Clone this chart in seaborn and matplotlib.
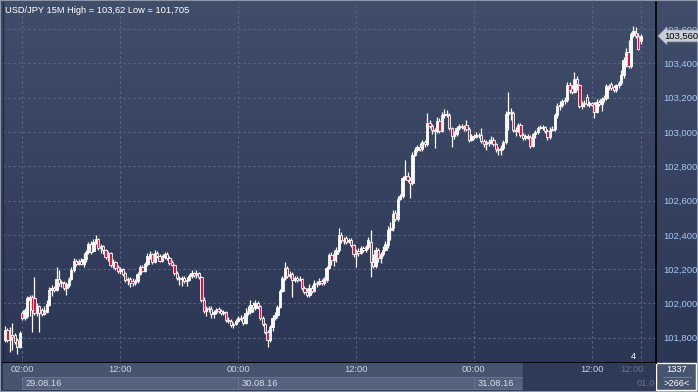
"""USD/JPY 15M candles, 29.08.16 - 31.08.16"""
import matplotlib
matplotlib.use("Agg")
import matplotlib.pyplot as plt
import numpy as np
import pandas as pd
import seaborn as sns

# ---- data (15 minute bars) ----
o = [101.787, 101.846, 101.787, 101.817, 101.817, 101.787, 101.747, 101.945, 101.916, 101.927,
     102.021, 102.038, 102.032, 101.945, 101.986, 101.962, 101.939, 101.951, 101.992, 102.079,
     102.091, 102.079, 102.143, 102.120, 102.120, 102.091, 102.108, 102.143, 102.196, 102.248,
     102.231, 102.248, 102.231, 102.260, 102.301, 102.347, 102.307, 102.359, 102.377, 102.324,
     102.336, 102.312, 102.272, 102.295, 102.225, 102.242, 102.213, 102.190, 102.202, 102.178,
     102.137, 102.143, 102.132, 102.120, 102.132, 102.172, 102.213, 102.190, 102.231, 102.277,
     102.289, 102.242, 102.295, 102.277, 102.248, 102.272, 102.289, 102.266, 102.242, 102.225,
     102.178, 102.149, 102.143, 102.149, 102.132, 102.137, 102.161, 102.178, 102.167, 102.178,
     102.155, 102.021, 101.957, 101.974, 101.968, 101.939, 101.951, 101.968, 101.957, 101.945,
     101.951, 101.904, 101.898, 101.875, 101.881, 101.898, 101.916, 101.916, 101.887, 101.945,
     101.951, 101.992, 101.974, 102.003, 101.986, 101.916, 101.881, 101.834, 101.787, 101.863,
     101.916, 101.933, 101.980, 102.073, 102.149, 102.207, 102.161, 102.172, 102.137, 102.149,
     102.137, 102.143, 102.091, 102.067, 102.050, 102.091, 102.073, 102.120, 102.114, 102.132,
     102.120, 102.137, 102.207, 102.283, 102.254, 102.289, 102.312, 102.400, 102.371, 102.382,
     102.359, 102.371, 102.342, 102.289, 102.307, 102.295, 102.324, 102.312, 102.330, 102.359,
     102.242, 102.219, 102.312, 102.266, 102.289, 102.312, 102.342, 102.429, 102.441, 102.528,
     102.493, 102.609, 102.627, 102.732, 102.744, 102.720, 102.703, 102.866, 102.895, 102.913,
     102.901, 102.942, 102.930, 103.053, 103.035, 103.012, 103.006, 103.064, 103.006, 103.099,
     103.105, 103.099, 103.024, 102.977, 102.989, 103.024, 103.035, 103.029, 103.041, 103.018,
     102.954, 102.977, 102.971, 102.983, 102.983, 102.948, 102.930, 102.942, 102.936, 102.954,
     102.930, 102.901, 102.895, 102.907, 102.942, 103.105, 103.117, 103.111, 103.012, 103.006,
     103.041, 102.983, 102.965, 102.977, 102.971, 102.919, 102.989, 103.000, 103.024, 103.029,
     103.029, 103.006, 102.971, 103.012, 103.018, 103.099, 103.152, 103.157, 103.181, 103.187,
     103.274, 103.257, 103.233, 103.309, 103.274, 103.152, 103.169, 103.204, 103.157, 103.169,
     103.163, 103.117, 103.175, 103.163, 103.193, 103.198, 103.268, 103.280, 103.263, 103.245,
     103.274, 103.286, 103.333, 103.420, 103.467, 103.385, 103.566, 103.577, 103.560, 103.531]
h = [101.869, 101.857, 101.863, 101.887, 101.828, 101.799, 101.840, 101.957, 101.974, 102.044,
     102.050, 102.050, 102.155, 102.003, 101.992, 101.974, 101.986, 102.021, 102.097, 102.108,
     102.103, 102.213, 102.196, 102.137, 102.132, 102.126, 102.155, 102.213, 102.266, 102.260,
     102.260, 102.266, 102.295, 102.312, 102.359, 102.365, 102.377, 102.400, 102.382, 102.347,
     102.342, 102.318, 102.307, 102.301, 102.260, 102.248, 102.225, 102.213, 102.207, 102.184,
     102.155, 102.155, 102.149, 102.143, 102.184, 102.225, 102.225, 102.242, 102.295, 102.307,
     102.295, 102.312, 102.307, 102.289, 102.283, 102.301, 102.301, 102.277, 102.254, 102.231,
     102.190, 102.161, 102.161, 102.161, 102.155, 102.172, 102.196, 102.184, 102.196, 102.184,
     102.161, 102.038, 101.986, 101.986, 101.986, 101.962, 101.974, 101.980, 101.968, 101.962,
     101.957, 101.922, 101.910, 101.892, 101.910, 101.927, 101.933, 101.927, 101.974, 101.986,
     102.021, 102.009, 102.021, 102.015, 101.992, 101.927, 101.887, 101.846, 101.875, 101.933,
     101.951, 101.992, 102.085, 102.161, 102.242, 102.219, 102.190, 102.184, 102.161, 102.161,
     102.161, 102.149, 102.103, 102.091, 102.114, 102.108, 102.137, 102.132, 102.149, 102.143,
     102.155, 102.219, 102.295, 102.301, 102.312, 102.330, 102.441, 102.417, 102.388, 102.394,
     102.382, 102.382, 102.347, 102.318, 102.324, 102.336, 102.336, 102.342, 102.388, 102.429,
     102.289, 102.330, 102.324, 102.301, 102.336, 102.365, 102.452, 102.476, 102.546, 102.546,
     102.627, 102.639, 102.744, 102.837, 102.767, 102.738, 102.884, 102.913, 102.925, 102.936,
     102.954, 102.954, 103.111, 103.070, 103.047, 103.024, 103.088, 103.082, 103.117, 103.134,
     103.128, 103.111, 103.029, 103.006, 103.035, 103.047, 103.047, 103.041, 103.070, 103.029,
     102.989, 102.989, 103.000, 102.994, 103.024, 102.960, 102.954, 102.960, 102.977, 102.971,
     102.936, 102.913, 102.925, 102.954, 103.123, 103.233, 103.140, 103.123, 103.029, 103.053,
     103.053, 102.994, 102.989, 102.989, 102.983, 102.994, 103.012, 103.035, 103.041, 103.041,
     103.035, 103.018, 103.029, 103.035, 103.111, 103.169, 103.181, 103.193, 103.204, 103.292,
     103.292, 103.274, 103.350, 103.327, 103.280, 103.181, 103.187, 103.222, 103.181, 103.175,
     103.175, 103.193, 103.187, 103.204, 103.216, 103.280, 103.280, 103.292, 103.274, 103.280,
     103.298, 103.362, 103.438, 103.490, 103.537, 103.583, 103.620, 103.612, 103.577, 103.572]
l = [101.776, 101.776, 101.717, 101.729, 101.764, 101.705, 101.741, 101.904, 101.904, 101.916,
     101.927, 101.834, 101.933, 101.927, 101.834, 101.927, 101.933, 101.945, 101.986, 102.044,
     102.067, 102.073, 102.103, 102.097, 102.079, 102.050, 102.097, 102.137, 102.184, 102.219,
     102.225, 102.225, 102.213, 102.242, 102.289, 102.289, 102.301, 102.347, 102.312, 102.295,
     102.289, 102.260, 102.248, 102.213, 102.207, 102.196, 102.178, 102.172, 102.161, 102.126,
     102.108, 102.097, 102.103, 102.108, 102.120, 102.167, 102.184, 102.184, 102.219, 102.260,
     102.231, 102.237, 102.266, 102.242, 102.242, 102.260, 102.254, 102.225, 102.219, 102.167,
     102.137, 102.108, 102.103, 102.120, 102.103, 102.132, 102.149, 102.155, 102.149, 102.143,
     102.009, 101.945, 101.927, 101.951, 101.916, 101.916, 101.939, 101.945, 101.933, 101.933,
     101.892, 101.887, 101.863, 101.857, 101.875, 101.892, 101.898, 101.875, 101.881, 101.933,
     101.939, 101.951, 101.962, 101.968, 101.904, 101.869, 101.822, 101.747, 101.776, 101.840,
     101.904, 101.916, 101.974, 102.067, 102.137, 102.149, 102.149, 102.038, 102.126, 102.126,
     102.132, 102.079, 102.056, 102.038, 102.038, 102.062, 102.067, 102.097, 102.108, 102.108,
     102.108, 102.126, 102.202, 102.225, 102.219, 102.242, 102.301, 102.353, 102.347, 102.347,
     102.353, 102.330, 102.272, 102.213, 102.277, 102.289, 102.301, 102.301, 102.318, 102.155,
     102.207, 102.207, 102.242, 102.237, 102.277, 102.307, 102.324, 102.371, 102.423, 102.481,
     102.481, 102.604, 102.615, 102.720, 102.709, 102.615, 102.691, 102.860, 102.884, 102.890,
     102.890, 102.913, 102.919, 103.024, 102.989, 102.907, 102.994, 102.994, 103.000, 103.082,
     103.088, 103.012, 102.913, 102.960, 102.977, 103.012, 103.018, 103.006, 103.006, 102.942,
     102.948, 102.960, 102.965, 102.965, 102.936, 102.913, 102.895, 102.919, 102.930, 102.919,
     102.884, 102.866, 102.866, 102.895, 102.930, 103.012, 103.070, 103.000, 102.977, 103.000,
     102.971, 102.954, 102.954, 102.960, 102.907, 102.913, 102.965, 102.989, 103.018, 103.012,
     102.994, 102.954, 102.960, 103.006, 103.006, 103.082, 103.128, 103.146, 103.163, 103.175,
     103.228, 103.222, 103.228, 103.245, 103.140, 103.134, 103.146, 103.152, 103.146, 103.152,
     103.082, 103.111, 103.152, 103.123, 103.175, 103.187, 103.245, 103.245, 103.233, 103.233,
     103.257, 103.274, 103.315, 103.379, 103.373, 103.373, 103.554, 103.548, 103.478, 103.513]
c = [101.846, 101.787, 101.817, 101.805, 101.776, 101.747, 101.828, 101.916, 101.962, 102.032,
     102.038, 101.962, 101.945, 101.986, 101.945, 101.939, 101.962, 101.997, 102.079, 102.091,
     102.079, 102.143, 102.120, 102.126, 102.091, 102.114, 102.143, 102.196, 102.248, 102.231,
     102.248, 102.231, 102.260, 102.301, 102.347, 102.301, 102.359, 102.377, 102.324, 102.336,
     102.312, 102.272, 102.295, 102.225, 102.242, 102.207, 102.190, 102.202, 102.172, 102.137,
     102.143, 102.120, 102.120, 102.132, 102.172, 102.213, 102.190, 102.231, 102.277, 102.289,
     102.242, 102.295, 102.277, 102.248, 102.272, 102.289, 102.266, 102.237, 102.225, 102.178,
     102.149, 102.143, 102.149, 102.132, 102.137, 102.161, 102.178, 102.167, 102.178, 102.155,
     102.021, 101.957, 101.974, 101.968, 101.939, 101.951, 101.962, 101.957, 101.945, 101.951,
     101.904, 101.898, 101.875, 101.881, 101.898, 101.916, 101.910, 101.887, 101.945, 101.957,
     101.992, 101.980, 102.003, 101.986, 101.916, 101.881, 101.834, 101.787, 101.863, 101.916,
     101.933, 101.980, 102.073, 102.149, 102.207, 102.161, 102.172, 102.137, 102.149, 102.137,
     102.143, 102.091, 102.067, 102.050, 102.091, 102.073, 102.120, 102.114, 102.132, 102.120,
     102.149, 102.207, 102.283, 102.254, 102.289, 102.312, 102.400, 102.371, 102.365, 102.359,
     102.371, 102.342, 102.289, 102.307, 102.295, 102.324, 102.312, 102.330, 102.371, 102.242,
     102.219, 102.312, 102.266, 102.289, 102.312, 102.347, 102.429, 102.441, 102.522, 102.493,
     102.609, 102.627, 102.732, 102.744, 102.720, 102.703, 102.866, 102.895, 102.913, 102.901,
     102.942, 102.930, 103.053, 103.035, 103.012, 103.006, 103.064, 103.006, 103.099, 103.105,
     103.099, 103.024, 102.977, 102.989, 103.024, 103.035, 103.029, 103.024, 103.018, 102.954,
     102.977, 102.971, 102.983, 102.977, 102.948, 102.930, 102.942, 102.936, 102.954, 102.930,
     102.901, 102.895, 102.907, 102.942, 103.105, 103.117, 103.111, 103.012, 103.006, 103.041,
     102.983, 102.965, 102.977, 102.971, 102.919, 102.989, 103.000, 103.024, 103.029, 103.024,
     103.006, 102.971, 103.012, 103.018, 103.099, 103.152, 103.157, 103.181, 103.187, 103.274,
     103.245, 103.233, 103.309, 103.280, 103.152, 103.169, 103.163, 103.163, 103.169, 103.157,
     103.117, 103.175, 103.163, 103.193, 103.198, 103.268, 103.263, 103.257, 103.245, 103.274,
     103.286, 103.333, 103.420, 103.467, 103.385, 103.572, 103.589, 103.560, 103.484, 103.560]

price_ticks = [101.8, 102.0, 102.2, 102.4, 102.6, 102.8, 103.0, 103.2, 103.4, 103.6]
price_labels = ["101,800", "102,000", "102,200", "102,400", "102,600",
                "102,800", "103,000", "103,200", "103,400", "103,600"]
time_ticks = [7, 47, 95, 143, 191, 239]          # bar index of each time label
time_labels = ["02:00", "12:00", "00:00", "12:00", "00:00", "12:00"]
day_starts = [7, 95, 191]
day_labels = ["29.08.16", "30.08.16", "31.08.16"]
title = "USD/JPY 15M High = 103,62 Low = 101,705"
last_price = 103.560
last_label = "103,560"

df = pd.DataFrame({"open": o, "high": h, "low": l, "close": c})
df["bar"] = np.arange(len(df))
df["up"] = df["close"] >= df["open"]

sns.set_theme(style="dark", rc={"axes.facecolor": "none", "figure.facecolor": "#2b3654"})
plt.rcParams["font.family"] = ["Liberation Sans", "DejaVu Sans"]

W, H = 698, 392
fig = plt.figure(figsize=(W / 100, H / 100), dpi=100)

# gradient background over the whole figure
bg = fig.add_axes([0, 0, 1, 1], zorder=-5)
grad = np.linspace(0, 1, 256)[:, None]
cmap = matplotlib.colors.LinearSegmentedColormap.from_list("bg", ["#404d6b", "#2a3553"])
bg.imshow(grad, aspect="auto", cmap=cmap, extent=[0, 1, 0, 1])
bg.add_patch(plt.Rectangle((0, 0), 1, 1, transform=bg.transAxes, fill=False,
                           ec="#8d96a8", lw=1.5))
bg.set_axis_off()

# main plot area
ax = fig.add_axes([3 / W, 29 / H, 653 / W, 361 / H])
ax.set_xlim(-0.8, 265.2)
ax.set_ylim(101.653, 103.758)

for p in price_ticks:
    ax.axhline(p, color="#5b6885", lw=0.8, ls=(0, (2, 2.5)), zorder=1)
for t in time_ticks + [259]:
    ax.axvline(t, color="#5b6885", lw=0.8, ls=(0, (2, 2.5)), zorder=1)

ax.vlines(df["bar"], df["low"], df["high"], color="white", lw=0.9, zorder=2)
body_lo = df[["open", "close"]].min(axis=1)
body_h = (df["close"] - df["open"]).abs().clip(lower=0.003)
ax.bar(df["bar"], body_h, bottom=body_lo, width=0.95,
       color=np.where(df["up"], "white", "#e3123c"),
       edgecolor="white", linewidth=0.6, zorder=3)

ax.set_xticks([])
ax.yaxis.tick_right()
ax.set_yticks(price_ticks)
ax.set_yticklabels(price_labels)
ax.tick_params(axis="y", length=0, pad=5, labelsize=6.8, labelcolor="#a9c8f0")
ax.spines["top"].set_visible(False)
ax.spines["right"].set_color("black")
ax.spines["right"].set_linewidth(1.2)
ax.spines["bottom"].set_color("black")
ax.spines["bottom"].set_linewidth(1.2)
ax.spines["left"].set_color("#222b40")
ax.spines["left"].set_linewidth(1)

ax.text(0.003, 0.99, title, transform=ax.transAxes, color="white",
        fontsize=6.7, va="top", ha="left")
ax.text(256, 101.665, "4", color="white", fontsize=6.5, ha="center", va="bottom")

# last price marker on the price scale
ax.annotate(last_label, xy=(1.0, last_price), xycoords=("axes fraction", "data"),
            xytext=(6, 0), textcoords="offset points", va="center", ha="left",
            fontsize=6.8, color="black", zorder=10,
            bbox=dict(boxstyle="larrow,pad=0.15", fc="#c9ced8", ec="#9aa2b2", lw=0.5))

# time axis strip
axb = fig.add_axes([3 / W, 2 / H, 653 / W, 27 / H], sharex=ax)
axb.set_ylim(0, 1)
axb.axvspan(-0.8, 265.2, color="#47546f", zorder=0)
for i, (d0, lab) in enumerate(zip(day_starts, day_labels)):
    d1 = day_starts[i + 1] if i + 1 < len(day_starts) else 211
    axb.add_patch(plt.Rectangle((d0, 0.02), d1 - d0, 0.46, fc="#56627d",
                                ec="#6b7793", lw=0.6, zorder=1))
    axb.text(d0 + 1.5, 0.25, lab, color="#d5dcea", fontsize=6.7, va="center", zorder=3)
axb.axvspan(211, 265.2, color="#2e3a57", zorder=2)
for t, lab in zip(time_ticks, time_labels):
    axb.text(t, 0.76, lab, color="#c9d3e3", fontsize=6.7, va="center", ha="center", zorder=3)
axb.text(t + 16.5, 0.76, "12:00", color="#66738e", fontsize=6.7, va="center", ha="center", zorder=3)
axb.text(261, 0.25, "01.0", color="#66738e", fontsize=6.7, va="center", ha="center", zorder=3)
axb.set_xticks([])
axb.set_yticks([])
for s in axb.spines.values():
    s.set_visible(False)

# bars / count corner
fig.add_artist(plt.Rectangle((656 / W, 2 / H), 40 / W, 27 / H, fc="#47546f", zorder=-1))
fig.text(677 / W, 1 - 370 / H, "1337", color="white", fontsize=6.7, ha="center", va="center")
fig.add_artist(plt.Line2D([663 / W, 691 / W], [1 - 377 / H, 1 - 377 / H], color="#7d889e", lw=0.6))
fig.text(677 / W, 1 - 383 / H, ">266<", color="white", fontsize=6.7, ha="center", va="center")

fig.savefig("out.png", dpi=100)
